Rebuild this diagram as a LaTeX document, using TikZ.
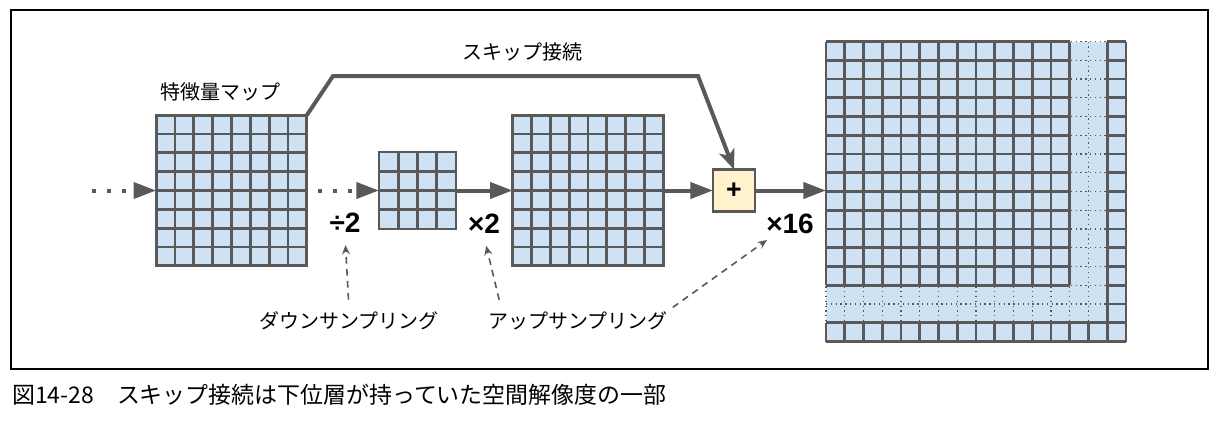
\documentclass[tikz,border=0pt]{standalone}
\usepackage{fontspec}
\setmainfont{Liberation Sans}
\newfontfamily\jpfont{Noto Sans CJK JP}
\usetikzlibrary{arrows.meta,calc}
\definecolor{cellBlue}{HTML}{CFE2F3}
\definecolor{edgeGray}{HTML}{595959}
\definecolor{plusYellow}{HTML}{FFF2CC}

\begin{document}
\begin{tikzpicture}
[x=0.75pt,y=-0.75pt,
  gridDecorate/.style={shape=rectangle,draw=edgeGray,fill=cellBlue,line width=2.2pt,inner sep=0pt,outer sep=0pt},
  cellDecorate/.style={draw=edgeGray,line width=2.2pt},
  dotCellDecorate/.style={draw=edgeGray,line width=1pt,dash pattern=on 1pt off 2.6pt},
  flowDecorate/.style={draw=edgeGray,line width=3pt,-{Triangle[length=17pt,width=12pt]}},
  dotFlowDecorate/.style={flowDecorate,dash pattern=on 3pt off 8.25pt},
  skipDecorate/.style={draw=edgeGray,line width=3pt,-{Stealth[length=15pt,width=12pt,inset=4pt]}},
  noteDecorate/.style={draw=edgeGray,line width=1.2pt,dash pattern=on 5pt off 4pt,-{Stealth[length=7pt,width=6pt]}},
  plusDecorate/.style={shape=rectangle,draw=edgeGray,fill=plusYellow,line width=2pt,minimum size=31.5pt,inner sep=0pt,outer sep=0pt,font=\bfseries\fontsize{20}{20}\selectfont},
  opDecorate/.style={font=\bfseries\fontsize{21}{21}\selectfont,inner sep=2pt},
  labelDecorate/.style={font=\jpfont\fontsize{15}{15}\selectfont,inner sep=2pt}]
\useasboundingbox (0,0) rectangle (1224,426);
\draw[line width=1pt] (11,10) rectangle (1208,369);
%% feature maps
\foreach \mapname/\x/\y/\size in {
  fmap/231.5/190.5/113pt,
  down/417.5/190.5/57.75pt,
  up/588/190.5/113pt}
{
  \node (\mapname) at (\x,\y) [gridDecorate,minimum size=\size] {};
}
\node (out) at (976,191.5) [gridDecorate,draw=none,minimum size=225pt] {};
\node (add) at (734,190.5) [plusDecorate] {+};
%% cells
\foreach \mapname/\n in {fmap/8, down/4, up/8}
{
  \pgfmathtruncatemacro{\m}{\n-1}
  \foreach \i in {1,...,\m}
  {
    \draw[cellDecorate] ($(\mapname.north west)!\i/\n!(\mapname.north east)$) -- ($(\mapname.south west)!\i/\n!(\mapname.south east)$);
    \draw[cellDecorate] ($(\mapname.north west)!\i/\n!(\mapname.south west)$) -- ($(\mapname.north east)!\i/\n!(\mapname.south east)$);
  }
}
\begin{scope}[shift={(out.north west)},x=14.0625pt,y=-14.0625pt]
  \foreach \i in {0,...,16}
  {
    \draw[dotCellDecorate] (\i,0) -- (\i,16);
    \draw[dotCellDecorate] (0,\i) -- (16,\i);
  }
  \foreach \i in {0,...,13}
  {
    \draw[cellDecorate] (\i,0) -- (\i,13);
    \draw[cellDecorate] (0,\i) -- (13,\i);
  }
  \foreach \i in {0,...,16}
  {
    \draw[cellDecorate] (\i,15) -- (\i,16);
    \draw[cellDecorate] (15,\i) -- (16,\i);
  }
  \draw[cellDecorate] (15,0) -- (15,16) (16,0) -- (16,16) (0,15) -- (16,15) (0,16) -- (16,16);
\end{scope}
%% labels
\node (fmapLabel) at (220,92) [labelDecorate] {特徴量マップ};
\node (skipLabel) at (522,52) [labelDecorate] {スキップ接続};
\node (div) at (345,223) [opDecorate] {÷2};
\node (times2) at (484,224) [opDecorate] {×2};
\node (times16) at (790,224) [opDecorate] {×16};
\node (dlab) at (349,321) [labelDecorate] {ダウンサンプリング};
\node (alab) at (578,321) [labelDecorate] {アップサンプリング};
\node (caption) at (12,395) [anchor=west,inner sep=0pt,font=\jpfont\fontsize{17.2}{17.2}\selectfont] {図14-28　スキップ接続は下位層が持っていた空間解像度の一部};
%% edges or lines
\coordinate (src) at (92,190.5);
\coordinate (mid) at (318,190.5);
\coordinate (k1) at (333,76);
\coordinate (k2) at (698,76);
\draw[dotFlowDecorate] (src) -- (fmap.west);
\draw[dotFlowDecorate] (mid) -- (down.west);
\draw[flowDecorate] (down.east) -- (up.west);
\draw[flowDecorate] (up.east) -- (add.west);
\draw[flowDecorate] (add.east) -- (add.east -| out.west);
\draw[skipDecorate] (fmap.north east) -- (k1) -- (k2) -- (add.north);
\draw[noteDecorate,shorten <=7pt,shorten >=7pt] (dlab.north) -- (div.south);
\draw[noteDecorate,shorten <=7pt,shorten >=7pt] ([xshift=12pt]alab.north west) -- (times2.south);
\draw[noteDecorate,shorten <=2pt,shorten >=4pt] (alab.north east) -- ([xshift=-14pt]times16.south);
\end{tikzpicture}
\end{document}
